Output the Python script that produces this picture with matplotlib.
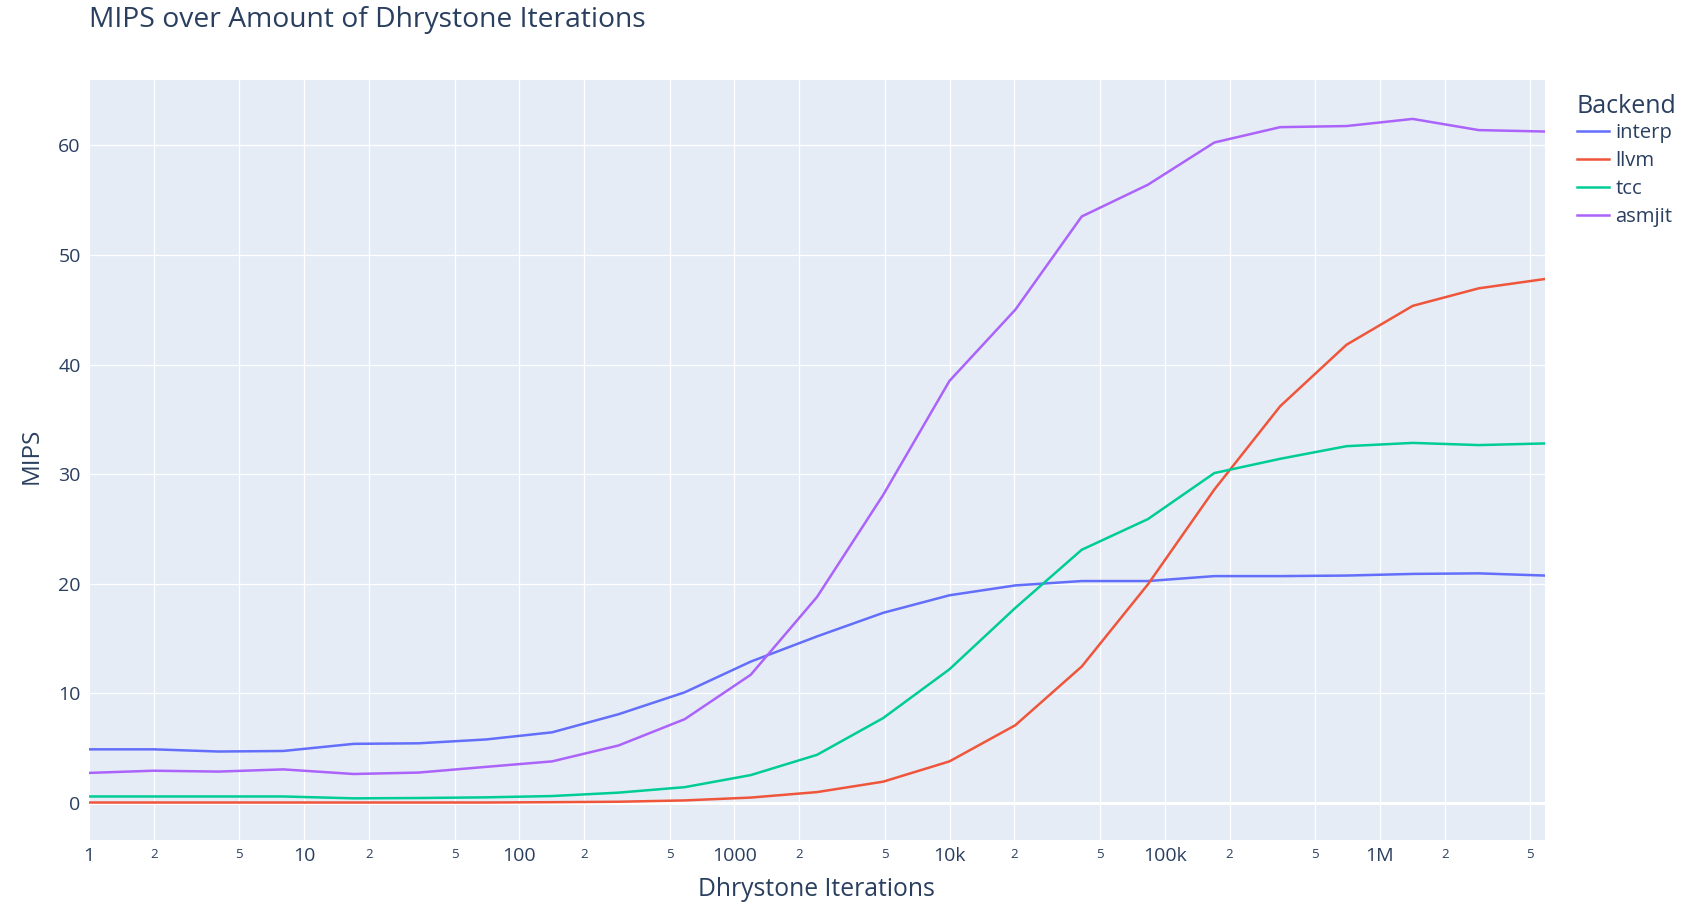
import matplotlib
matplotlib.use("Agg")
import matplotlib.pyplot as plt

# Dhrystone iteration counts (x) and MIPS per backend
iterations = [1, 2, 4, 8, 17, 34, 70, 142, 289, 587, 1190, 2420, 4910, 9980,
              20200, 41100, 83500, 170000, 344000, 699000, 1420000, 2880000, 5850000]
interp = [4.9, 4.9, 4.7, 4.75, 5.4, 5.45, 5.8, 6.45, 8.1, 10.1, 12.9, 15.2, 17.35,
          18.95, 19.85, 20.25, 20.25, 20.7, 20.7, 20.75, 20.9, 20.95, 20.75]
llvm = [0.05, 0.05, 0.05, 0.05, 0.05, 0.05, 0.05, 0.08, 0.12, 0.24, 0.5, 1.0, 1.95,
        3.8, 7.1, 12.45, 19.95, 28.6, 36.2, 41.8, 45.35, 46.95, 47.8]
tcc = [0.6, 0.6, 0.6, 0.6, 0.43, 0.46, 0.52, 0.64, 0.95, 1.45, 2.55, 4.4, 7.75,
       12.2, 17.8, 23.1, 25.9, 30.1, 31.4, 32.55, 32.85, 32.65, 32.8]
asmjit = [2.75, 2.95, 2.87, 3.07, 2.65, 2.78, 3.3, 3.8, 5.25, 7.65, 11.7, 18.8, 28.1,
          38.5, 45.0, 53.5, 56.4, 60.25, 61.65, 61.75, 62.4, 61.38, 61.25]

backends = ['interp', 'llvm', 'tcc', 'asmjit']
series = [interp, llvm, tcc, asmjit]
colors = ['#636efa', '#EF553B', '#00cc96', '#ab63fa']

major_ticks = [1, 10, 100, 1000, 10000, 100000, 1000000]
major_labels = ['1', '10', '100', '1000', '10k', '100k', '1M']
minor_ticks = [m * d for d in major_ticks for m in (2, 5)]
minor_labels = [str(m) for d in major_ticks for m in (2, 5)]

text_color = '#2a3f5f'
plt.rcParams['font.family'] = ['Open Sans', 'DejaVu Sans']

W, H = 1699, 902
fig = plt.figure(figsize=(W / 100, H / 100), dpi=100)
left, right, top, bottom = 89, 1545, 80, 840
ax = fig.add_axes([left / W, 1 - bottom / H, (right - left) / W, (bottom - top) / H])
ax.set_facecolor('#E5ECF6')

for name, vals, c in zip(backends, series, colors):
    ax.plot(iterations, vals, color=c, linewidth=1.8, label=name, zorder=3)

ax.set_xscale('log')
ax.set_xlim(iterations[0], iterations[-1])
ax.set_ylim(-3.37, 65.95)

ax.set_xticks(major_ticks)
ax.set_xticklabels(major_labels)
ax.set_xticks(minor_ticks, minor=True)
ax.set_xticklabels(minor_labels, minor=True)
ax.set_yticks([0, 10, 20, 30, 40, 50, 60])

ax.tick_params(axis='x', which='major', length=0, pad=5, labelsize=14, colors=text_color)
ax.tick_params(axis='x', which='minor', length=0, pad=6, labelsize=9.5, colors=text_color)
ax.tick_params(axis='y', length=0, pad=6, labelsize=14, colors=text_color)

ax.grid(True, which='both', axis='x', color='white', linewidth=0.9, zorder=0)
ax.grid(True, which='major', axis='y', color='white', linewidth=0.9, zorder=0)
ax.axhline(0, color='white', linewidth=2.2, zorder=1)
ax.set_axisbelow(True)
for s in ax.spines.values():
    s.set_visible(False)

ax.set_xlabel('Dhrystone Iterations', fontsize=17.8, color=text_color, va='center')
ax.xaxis.set_label_coords((816 - left) / (right - left), (bottom - 890) / (bottom - top))
ax.set_ylabel('MIPS', fontsize=17.5, color=text_color, va='center')
ax.yaxis.set_label_coords((32 - left) / (right - left), 0.505)

fig.text(left / W, 1 - 20 / H, 'MIPS over Amount of Dhrystone Iterations',
         fontsize=20.3, color=text_color, ha='left', va='center')

leg = fig.legend(loc='upper left', bbox_to_anchor=(1577 / W, 1 - 94 / H),
                 frameon=False, title='Backend', fontsize=14.6, title_fontsize=18,
                 handlelength=1.6, handletextpad=0.3, labelspacing=0.4,
                 borderaxespad=0, borderpad=0)
leg._legend_box.align = 'left'
leg._legend_box.sep = 2.7  # pull the entries a bit closer to the title
for t in leg.get_texts():
    t.set_color(text_color)
leg.get_title().set_color(text_color)

fig.savefig('out.png', dpi=100)
